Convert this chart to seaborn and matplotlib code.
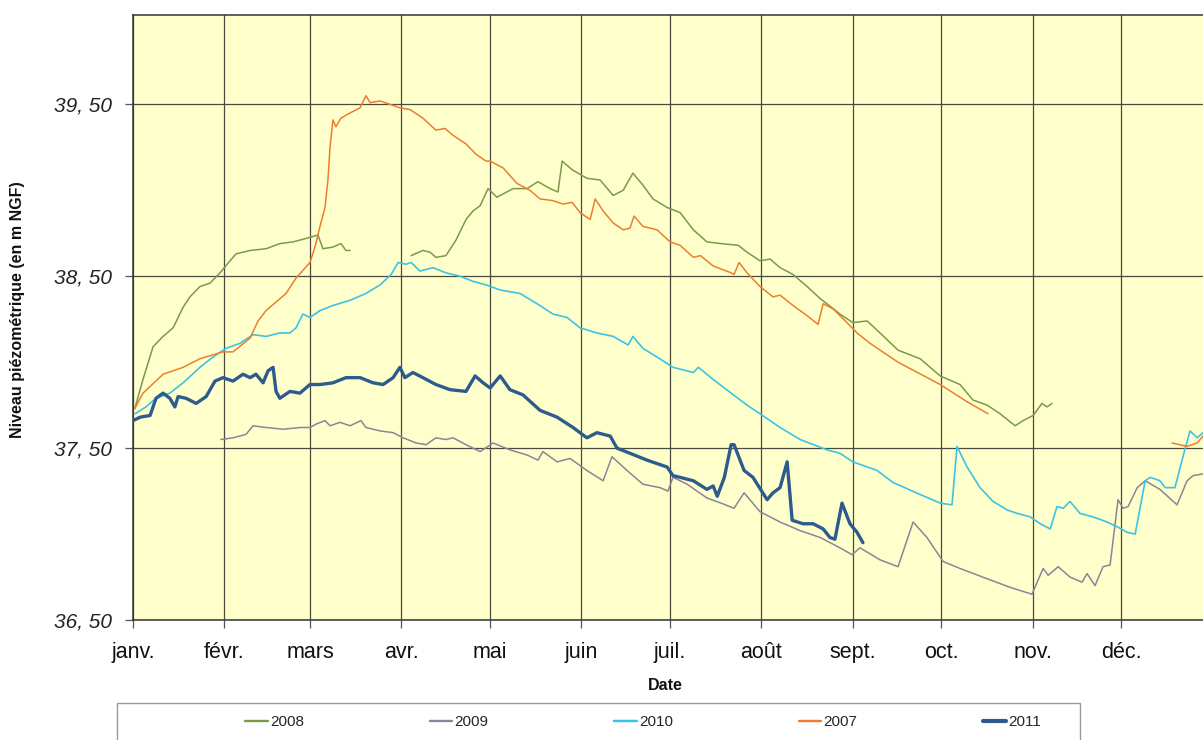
import numpy as np
import pandas as pd
import matplotlib
matplotlib.use("Agg")
import matplotlib.pyplot as plt
from matplotlib.lines import Line2D
from matplotlib.patches import Rectangle
from matplotlib.ticker import FuncFormatter
import seaborn as sns

# ---------------- data (day of year, level in m NGF); NaN = gap ----------------
month_days = [0, 31, 60, 91, 121, 152, 182, 213, 244, 274, 305, 335]
month_labels = ["janv.", "févr.", "mars", "avr.", "mai", "juin", "juil.",
                "août", "sept.", "oct.", "nov.", "déc."]
y_ticks = [36.5, 37.5, 38.5, 39.5]

days_2007 = [0.6, 3.4, 10.2, 17.0, 22.7, 30.5, 33.9, 39.7, 42.4, 45.1, 48.5, 51.9,
             55.3, 60.0, 61.7, 63.4, 65.1, 66.1, 66.8, 67.8, 68.8, 70.5, 73.6, 77.0,
             79.0, 80.4, 83.8, 87.1, 90.5, 93.9, 98.3, 102.7, 105.8, 108.5, 112.9,
             116.3, 119.7, 121.1, 125.5, 130.2, 134.6, 138.0, 142.4, 145.8, 148.9,
             151.6, 155.0, 156.7, 159.4, 162.8, 166.2, 168.5, 169.9, 172.9, 177.7,
             182.1, 185.5, 190.0, 192.4, 196.7, 202.8, 203.8, 205.5, 208.2, 212.6,
             217.0, 219.4, 223.8, 228.6, 232.3, 234.0, 237.4, 242.1, 245.5, 249.9,
             253.3, 259.4, 273.7, 282.8, 289.9,
             np.nan,
             352.3, 357.4, 360.8, 362.8]
level_2007 = [37.73, 37.82, 37.93, 37.97, 38.02, 38.06, 38.06, 38.14, 38.24, 38.30, 38.35, 38.40,
              38.49, 38.58, 38.67, 38.79, 38.90, 39.06, 39.25, 39.41, 39.37, 39.42, 39.45, 39.48,
              39.55, 39.51, 39.52, 39.50, 39.48, 39.47, 39.42, 39.35, 39.36, 39.32, 39.27,
              39.21, 39.17, 39.17, 39.13, 39.04, 39.00, 38.95, 38.94, 38.92, 38.93,
              38.87, 38.83, 38.95, 38.88, 38.81, 38.77, 38.78, 38.85, 38.79, 38.77,
              38.70, 38.68, 38.61, 38.62, 38.56, 38.52, 38.51, 38.58, 38.52, 38.44,
              38.38, 38.39, 38.33, 38.27, 38.22, 38.34, 38.31, 38.23, 38.17, 38.11,
              38.07, 38.00, 37.87, 37.77, 37.70,
              np.nan,
              37.53, 37.51, 37.53, 37.57]

days_2008 = [0.6, 3.4, 6.8, 10.2, 13.6, 17.0, 19.3, 22.7, 26.1, 29.5, 32.9, 34.9,
             39.7, 45.1, 49.8, 54.3, 58.7, 62.7, 64.4, 67.8, 70.5, 72.2, 73.6,
             np.nan,
             94.3, 98.3, 100.7, 102.7, 106.1, 109.5, 112.9, 115.3, 117.7, 120.4,
             123.4, 128.9, 133.6, 137.3, 141.4, 144.1, 145.5, 148.9, 153.9, 158.4,
             162.8, 166.2, 169.5, 172.9, 176.3, 181.1, 185.5, 190.0, 194.6, 199.4,
             205.2, 208.2, 212.6, 216.0, 219.4, 223.8, 228.6, 233.0, 235.3, 239.7,
             244.1, 248.9, 253.3, 259.4, 266.9, 273.7, 280.4, 284.8, 289.6, 294.0,
             299.1, 301.8, 305.2, 308.2, 309.9, 311.6]
level_2008 = [37.73, 37.90, 38.09, 38.15, 38.20, 38.32, 38.38, 38.44, 38.46, 38.52, 38.59, 38.63,
              38.65, 38.66, 38.69, 38.70, 38.72, 38.74, 38.66, 38.67, 38.69, 38.65, 38.65,
              np.nan,
              38.62, 38.65, 38.64, 38.61, 38.62, 38.71, 38.83, 38.88, 38.91, 39.01,
              38.96, 39.01, 39.01, 39.05, 39.01, 38.99, 39.17, 39.12, 39.07, 39.06,
              38.97, 39.00, 39.10, 39.03, 38.95, 38.90, 38.87, 38.77, 38.70, 38.69,
              38.68, 38.64, 38.59, 38.60, 38.55, 38.51, 38.44, 38.37, 38.34, 38.28,
              38.23, 38.24, 38.17, 38.07, 38.02, 37.92, 37.87, 37.78, 37.75, 37.70,
              37.63, 37.66, 37.69, 37.76, 37.74, 37.76]

days_2009 = [29.8, 33.9, 38.3, 40.7, 45.1, 50.9, 56.6, 60.0, 62.1, 65.1, 66.8, 70.2,
             73.6, 77.3, 79.0, 83.8, 88.2, 91.6, 96.0, 99.4, 102.7, 106.1, 108.5,
             112.9, 117.7, 122.1, 127.8, 133.6, 137.3, 139.0, 143.8, 148.2, 153.9,
             159.4, 162.4, 167.5, 172.9, 178.7, 181.4, 183.1, 187.9, 194.6, 199.4,
             203.8, 207.2, 212.6, 219.4, 226.2, 233.0, 239.7, 243.8, 246.5, 253.3,
             259.4, 264.5, 269.2, 274.7, 280.4, 289.6, 297.4, 304.8, 308.6, 310.3,
             313.7, 317.7, 321.8, 323.5, 326.2, 328.9, 331.3, 334.0, 335.7, 337.4,
             340.5, 343.2, 348.2, 354.0, 357.4, 359.4, 362.8]
level_2009 = [37.55, 37.56, 37.58, 37.63, 37.62, 37.61, 37.62, 37.62, 37.64, 37.66, 37.63, 37.65,
              37.63, 37.66, 37.62, 37.60, 37.59, 37.56, 37.53, 37.52, 37.56, 37.55, 37.56,
              37.52, 37.48, 37.53, 37.49, 37.46, 37.43, 37.48, 37.42, 37.44, 37.37,
              37.31, 37.45, 37.37, 37.29, 37.27, 37.25, 37.33, 37.29, 37.21, 37.18,
              37.15, 37.24, 37.13, 37.07, 37.02, 36.98, 36.92, 36.88, 36.92, 36.85,
              36.81, 37.07, 36.98, 36.84, 36.80, 36.74, 36.69, 36.65, 36.80, 36.76,
              36.81, 36.75, 36.72, 36.77, 36.70, 36.81, 36.82, 37.20, 37.15, 37.16,
              37.27, 37.31, 37.26, 37.17, 37.31, 37.34, 37.35]

days_2010 = [0.7, 4.4, 7.8, 12.5, 17.0, 22.7, 27.1, 31.5, 36.3, 40.7, 45.1, 49.8,
             53.2, 55.3, 57.6, 60.0, 63.4, 67.8, 73.6, 79.0, 83.8, 87.5, 89.9, 92.6,
             94.3, 97.3, 101.7, 106.1, 110.9, 115.3, 119.7, 124.5, 131.2, 137.0,
             142.4, 147.2, 151.6, 157.3, 162.8, 167.9, 169.5, 172.9, 177.7, 183.1,
             190.0, 191.7, 196.7, 202.8, 208.2, 212.6, 219.4, 226.2, 235.3, 239.7,
             244.1, 252.3, 257.7, 266.9, 273.7, 277.7, 279.4, 282.8, 287.2, 291.6,
             296.4, 299.8, 304.2, 307.6, 311.0, 313.3, 315.4, 317.7, 321.1, 325.5,
             330.3, 334.0, 337.1, 339.8, 343.2, 344.9, 348.2, 350.0, 353.3, 356.0,
             358.4, 360.8, 362.8]
level_2010 = [37.70, 37.74, 37.79, 37.82, 37.88, 37.97, 38.03, 38.08, 38.11, 38.16, 38.15, 38.17,
              38.17, 38.20, 38.28, 38.26, 38.30, 38.33, 38.36, 38.40, 38.45, 38.51, 38.58, 38.57,
              38.58, 38.53, 38.55, 38.52, 38.50, 38.47, 38.45, 38.42, 38.40, 38.34,
              38.28, 38.26, 38.20, 38.17, 38.15, 38.10, 38.15, 38.08, 38.03, 37.97,
              37.94, 37.97, 37.90, 37.82, 37.75, 37.70, 37.62, 37.55, 37.49, 37.47,
              37.42, 37.37, 37.30, 37.23, 37.18, 37.17, 37.51, 37.39, 37.27, 37.19,
              37.14, 37.12, 37.10, 37.06, 37.03, 37.16, 37.15, 37.19, 37.12, 37.10,
              37.07, 37.04, 37.01, 37.00, 37.31, 37.33, 37.31, 37.27, 37.27, 37.45,
              37.60, 37.56, 37.59]

days_2011 = [0.0, 2.4, 5.8, 7.8, 10.2, 12.5, 14.2, 15.3, 18.0, 21.4, 24.8, 27.8,
             30.5, 33.9, 37.3, 39.7, 41.7, 44.1, 45.8, 47.5, 48.5, 49.8, 53.2, 56.6,
             60.0, 63.4, 67.8, 72.2, 77.0, 81.4, 84.8, 88.2, 90.5, 92.2, 94.9, 98.3,
             102.7, 107.5, 112.9, 116.0, 118.7, 121.1, 124.5, 127.8, 132.2, 138.0,
             143.8, 149.2, 153.9, 157.3, 161.8, 164.1, 168.5, 174.3, 181.1, 183.1,
             185.5, 190.0, 194.6, 196.7, 198.1, 200.5, 202.8, 203.8, 207.2, 210.2,
             215.0, 217.0, 219.4, 221.8, 223.5, 227.2, 230.6, 234.0, 236.3, 238.0,
             240.4, 243.1, 245.5, 247.5]
level_2011 = [37.66, 37.68, 37.69, 37.79, 37.82, 37.79, 37.74, 37.80, 37.79, 37.76, 37.80, 37.89,
              37.91, 37.89, 37.93, 37.91, 37.93, 37.88, 37.95, 37.97, 37.83, 37.79, 37.83, 37.82,
              37.87, 37.87, 37.88, 37.91, 37.91, 37.88, 37.87, 37.91, 37.97, 37.91, 37.94, 37.91,
              37.87, 37.84, 37.83, 37.92, 37.88, 37.85, 37.92, 37.84, 37.81, 37.72,
              37.68, 37.62, 37.56, 37.59, 37.57, 37.50, 37.47, 37.43, 37.39, 37.34,
              37.33, 37.31, 37.26, 37.28, 37.22, 37.33, 37.52, 37.52, 37.37, 37.33,
              37.20, 37.24, 37.27, 37.42, 37.08, 37.06, 37.06, 37.03, 36.98, 36.97,
              37.18, 37.06, 37.01, 36.95]

series = {
    "2008": (days_2008, level_2008),
    "2009": (days_2009, level_2009),
    "2010": (days_2010, level_2010),
    "2007": (days_2007, level_2007),
    "2011": (days_2011, level_2011),
}
colors = {"2008": "#7A9A4A", "2009": "#8C8498", "2010": "#3CC3E6",
          "2007": "#EE7D30", "2011": "#2E5B8E"}
widths = {"2008": 1.1, "2009": 1.1, "2010": 1.2, "2007": 1.1, "2011": 2.4}

frames = []
for name, (d, v) in series.items():
    d = np.asarray(d, float)
    v = np.asarray(v, float)
    seg = np.cumsum(np.isnan(v))
    df = pd.DataFrame({"day": d, "level": v, "year": name, "seg": seg}).dropna()
    frames.append(df)
data = pd.concat(frames, ignore_index=True)

# ---------------- figure ----------------
sns.set_style("ticks")
plt.rcParams["font.family"] = ["Liberation Sans", "DejaVu Sans"]

fig = plt.figure(figsize=(12.03, 7.40), dpi=100)
ax = fig.add_axes([133 / 1203, 1 - 620 / 740, 1 - 133 / 1203, (620 - 15) / 740])
ax.set_facecolor("#FFFFCC")

draw_order = ["2009", "2010", "2008", "2007", "2011"]
for name in draw_order:
    sub = data[data["year"] == name]
    sns.lineplot(data=sub, x="day", y="level", units="seg", estimator=None,
                 sort=False, color=colors[name], linewidth=widths[name],
                 legend=False, ax=ax, zorder=3)

ax.set_xlim(0, 362.8)
ax.set_ylim(36.5, 40.02)
ax.set_xticks(month_days)
ax.set_xticklabels(month_labels)
ax.set_yticks(y_ticks)
ax.yaxis.set_major_formatter(FuncFormatter(lambda v, p: f"{v:.2f}".replace(".", ", ")))
ax.grid(True, color="#4A4A40", linewidth=0.9)
ax.set_axisbelow(True)
for lab in ax.get_yticklabels():
    lab.set_fontstyle("italic")
ax.tick_params(axis="x", labelsize=15.5, length=6, width=0.9, color="#555555",
               pad=10, labelcolor="#111111")
ax.tick_params(axis="y", labelsize=15, length=6, width=0.9, color="#555555",
               pad=9, labelcolor="#222222")
ax.set_xlabel("")
ax.set_ylabel("")
for s in ["left", "bottom", "top"]:
    ax.spines[s].set_color("#333333")
    ax.spines[s].set_linewidth(1.1)
ax.spines["right"].set_visible(False)

fig.text(18 / 1203, 1 - 310 / 740, "Niveau piézométrique (en m NGF)", rotation=90,
         ha="center", va="center", fontsize=11.5, fontweight="bold", color="#111111")
fig.text(665 / 1203, 1 - 686 / 740, "Date", ha="center", va="center",
         fontsize=11.5, fontweight="bold", color="#111111")

# legend box
fig.patches.append(Rectangle((117 / 1203, -0.05), (1080 - 117) / 1203, 0.05 + 37 / 740,
                             transform=fig.transFigure, fill=False,
                             edgecolor="#9A9A9A", linewidth=1.0))
legend_order = ["2008", "2009", "2010", "2007", "2011"]
handles = [Line2D([0], [0], color=colors[n], linewidth=widths[n] + 0.6) for n in legend_order]
fig.legend(handles, legend_order, loc="center", bbox_to_anchor=(643 / 1203, 1 - 722 / 740),
           ncol=5, frameon=False, fontsize=11, handlelength=1.5, handletextpad=0.15,
           columnspacing=8.2)

fig.savefig("out.png", dpi=100)
